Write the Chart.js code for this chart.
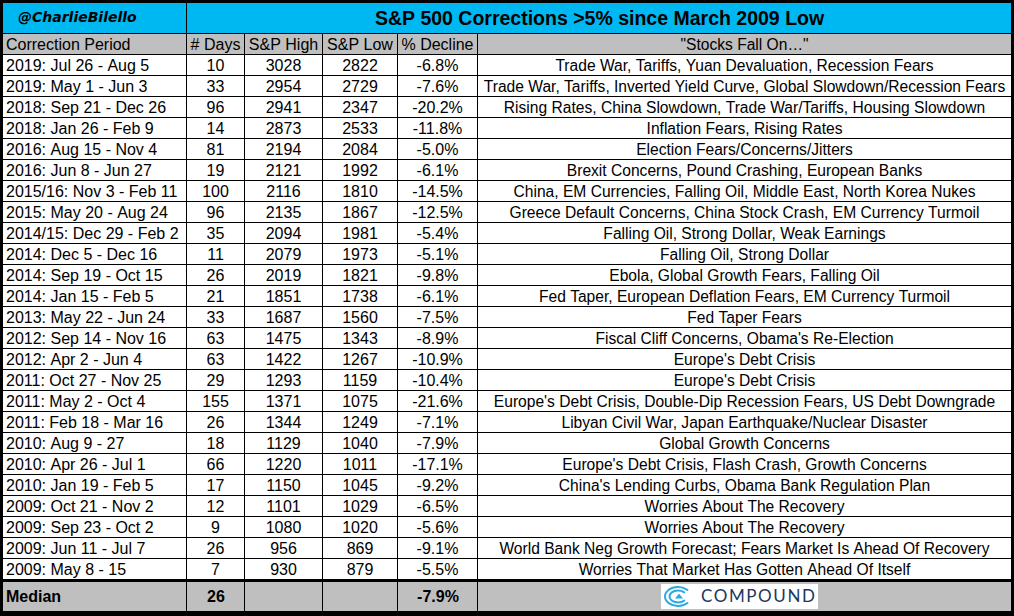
<!DOCTYPE html>
<html>
<head>
<meta charset="utf-8">
<style>
    html, body { margin: 0; padding: 0; background: #ffffff; }
    canvas { display: block; }
</style>
<script src="https://cdn.jsdelivr.net/npm/chart.js@4"></script>
</head>
<body>
<canvas id="correctionsChart" width="1014" height="616"></canvas>
<script>
const headers = ['Correction Period', '# Days', 'S&P High', 'S&P Low', '% Decline', '"Stocks Fall On\u2026"'];

const periods = [
    '2019: Jul 26 - Aug 5', '2019: May 1 - Jun 3', '2018: Sep 21 - Dec 26', '2018: Jan 26 - Feb 9',
    '2016: Aug 15 - Nov 4', '2016: Jun 8 - Jun 27', '2015/16: Nov 3 - Feb 11', '2015: May 20 - Aug 24',
    '2014/15: Dec 29 - Feb 2', '2014: Dec 5 - Dec 16', '2014: Sep 19 - Oct 15', '2014: Jan 15 - Feb 5',
    '2013: May 22 - Jun 24', '2012: Sep 14 - Nov 16', '2012: Apr 2 - Jun 4', '2011: Oct 27 - Nov 25',
    '2011: May 2 - Oct 4', '2011: Feb 18 - Mar 16', '2010: Aug 9 - 27', '2010: Apr 26 - Jul 1',
    '2010: Jan 19 - Feb 5', '2009: Oct 21 - Nov 2', '2009: Sep 23 - Oct 2', '2009: Jun 11 - Jul 7',
    '2009: May 8 - 15'
];
const days = [10, 33, 96, 14, 81, 19, 100, 96, 35, 11, 26, 21, 33, 63, 63, 29, 155, 26, 18, 66, 17, 12, 9, 26, 7];
const highs = [3028, 2954, 2941, 2873, 2194, 2121, 2116, 2135, 2094, 2079, 2019, 1851, 1687, 1475, 1422, 1293, 1371, 1344, 1129, 1220, 1150, 1101, 1080, 956, 930];
const lows = [2822, 2729, 2347, 2533, 2084, 1992, 1810, 1867, 1981, 1973, 1821, 1738, 1560, 1343, 1267, 1159, 1075, 1249, 1040, 1011, 1045, 1029, 1020, 869, 879];
const declines = [-6.8, -7.6, -20.2, -11.8, -5.0, -6.1, -14.5, -12.5, -5.4, -5.1, -9.8, -6.1, -7.5, -8.9, -10.9, -10.4, -21.6, -7.1, -7.9, -17.1, -9.2, -6.5, -5.6, -9.1, -5.5];
const reasons = [
    'Trade War, Tariffs, Yuan Devaluation, Recession Fears',
    'Trade War, Tariffs, Inverted Yield Curve, Global Slowdown/Recession Fears',
    'Rising Rates, China Slowdown, Trade War/Tariffs, Housing Slowdown',
    'Inflation Fears, Rising Rates',
    'Election Fears/Concerns/Jitters',
    'Brexit Concerns, Pound Crashing, European Banks',
    'China, EM Currencies, Falling Oil, Middle East, North Korea Nukes',
    'Greece Default Concerns, China Stock Crash, EM Currency Turmoil',
    'Falling Oil, Strong Dollar, Weak Earnings',
    'Falling Oil, Strong Dollar',
    'Ebola, Global Growth Fears, Falling Oil',
    'Fed Taper, European Deflation Fears, EM Currency Turmoil',
    'Fed Taper Fears',
    "Fiscal Cliff Concerns, Obama's Re-Election",
    "Europe's Debt Crisis",
    "Europe's Debt Crisis",
    "Europe's Debt Crisis, Double-Dip Recession Fears, US Debt Downgrade",
    'Libyan Civil War, Japan Earthquake/Nuclear Disaster',
    'Global Growth Concerns',
    "Europe's Debt Crisis, Flash Crash, Growth Concerns",
    "China's Lending Curbs, Obama Bank Regulation Plan",
    'Worries About The Recovery',
    'Worries About The Recovery',
    'World Bank Neg Growth Forecast; Fears Market Is Ahead Of Recovery',
    'Worries That Market Has Gotten Ahead Of Itself'
];
const medianLabel = 'Median';
const medianDays = 26;
const medianDecline = -7.9;
const titleText = 'S&P 500 Corrections >5% since March 2009 Low';
const handleText = '@CharlieBilello';
const logoText = 'COMPOUND';

const columnWidths = [184, 58, 78, 75, 80, 534];
const BLUE = '#00b8f1';
const GREY = '#bfbfbf';
const FONT = '"Liberation Sans", Arial, sans-serif';

function pct(v) {
    return v.toFixed(1) + '%';
}

// Text for a given column, row 0 is the grey header
function cellText(col, row) {
    if (row === 0) {
        return headers[col];
    }
    const i = row - 1;
    return [periods[i], days[i], highs[i], lows[i], pct(declines[i]), reasons[i]][col];
}

function columnEdge(scale, col) {
    let sum = 0;
    for (let i = 0; i < col; i++) {
        sum += columnWidths[i];
    }
    return scale.getPixelForValue(sum);
}

function drawLogo(ctx, x, y) {
    ctx.fillStyle = '#ffffff';
    ctx.fillRect(x, y, 157, 25);

    // Swirl
    const cx = x + 17, cy = y + 12.5;
    ctx.strokeStyle = '#29abe2';
    ctx.lineCap = 'round';
    ctx.lineWidth = 2;
    [[13, 9.5], [8.5, 6]].forEach(function (r) {
        ctx.beginPath();
        ctx.ellipse(cx, cy, r[0], r[1], 0, 0.24 * Math.PI, 1.76 * Math.PI);
        ctx.stroke();
    });
    ctx.fillStyle = '#29abe2';
    ctx.beginPath();
    ctx.moveTo(cx + 1, cy - 3);
    ctx.lineTo(cx + 5, cy + 2);
    ctx.lineTo(cx - 3, cy + 2);
    ctx.closePath();
    ctx.fill();

    ctx.fillStyle = '#22375e';
    ctx.font = '17px Lato, sans-serif';
    ctx.letterSpacing = '1.6px';
    ctx.textAlign = 'left';
    ctx.textBaseline = 'middle';
    ctx.fillText(logoText, x + 40, y + 13);
    ctx.letterSpacing = '0px';
}

// Title band, median band and the outer frame sit around the category rows
const frameBands = {
    id: 'frameBands',
    beforeDatasetsDraw(chart) {
        const ctx = chart.ctx;
        const xs = chart.scales.x;
        const area = chart.chartArea;
        const left = area.left - 1;
        const right = area.right;

        ctx.save();
        ctx.fillStyle = BLUE;
        ctx.fillRect(left, area.top - 32, right - left, 32);
        ctx.fillStyle = GREY;
        ctx.fillRect(left, area.bottom + 1, right - left, 31);

        ctx.fillStyle = '#000000';
        // top, title bottom, double rule over the median row, bottom
        ctx.fillRect(left, area.top - 32, right - left, 1);
        ctx.fillRect(left, area.top - 1, right - left, 1);
        ctx.fillRect(left, area.bottom + 1, right - left, 1);
        ctx.fillRect(left, area.bottom + 31, right - left, 1);
        // left and right edges
        ctx.fillRect(left, area.top - 32, 1, area.bottom + 32 - area.top + 32);
        ctx.fillRect(right - 1, area.top - 32, 1, area.bottom + 32 - area.top + 32);
        // title divider
        ctx.fillRect(columnEdge(xs, 1) - 1, area.top - 32, 1, 32);
        // median dividers
        for (let c = 1; c < columnWidths.length; c++) {
            ctx.fillRect(columnEdge(xs, c) - 1, area.bottom + 1, 1, 31);
        }
        ctx.restore();
    },
    afterDatasetsDraw(chart) {
        const ctx = chart.ctx;
        const xs = chart.scales.x;
        const area = chart.chartArea;
        const titleMid = area.top - 16;
        const medianMid = area.bottom + 18;

        ctx.save();
        ctx.fillStyle = '#000000';
        ctx.textBaseline = 'middle';

        ctx.textAlign = 'left';
        ctx.font = 'italic bold 14px "DejaVu Sans", sans-serif';
        ctx.fillText(handleText, 18, titleMid);

        ctx.textAlign = 'center';
        ctx.font = 'bold 19.5px ' + FONT;
        ctx.fillText(titleText, (columnEdge(xs, 1) + area.right) / 2, titleMid + 2);

        ctx.font = 'bold 16px ' + FONT;
        ctx.textAlign = 'left';
        ctx.fillText(medianLabel, 6, medianMid);
        ctx.textAlign = 'center';
        ctx.fillText(String(medianDays), (columnEdge(xs, 1) + columnEdge(xs, 2)) / 2, medianMid);
        ctx.fillText(pct(medianDecline), (columnEdge(xs, 4) + columnEdge(xs, 5)) / 2, medianMid);

        drawLogo(ctx, 661, 584);
        ctx.restore();
    }
};

// Writes the cell text on top of each bar
const cellLabels = {
    id: 'cellLabels',
    afterDatasetsDraw(chart) {
        const ctx = chart.ctx;
        const lastCol = columnWidths.length - 1;
        ctx.save();
        ctx.fillStyle = '#000000';
        ctx.textBaseline = 'middle';

        chart.data.datasets.forEach(function (dataset, col) {
            // The reasons column runs a little tighter than the numbers
            ctx.font = (col === lastCol ? '15.6px ' : '16px ') + FONT;
            chart.getDatasetMeta(col).data.forEach(function (bar, row) {
                const props = bar.getProps(['x', 'y', 'base'], true);
                const text = cellText(col, row);
                if (col === 0) {
                    ctx.textAlign = 'left';
                    ctx.fillText(text, props.base + 3, props.y + 1);
                } else {
                    ctx.textAlign = 'center';
                    ctx.fillText(text, (props.base + props.x - 1) / 2, props.y + 1);
                }
            });
        });
        ctx.restore();
    }
};

function initChart() {
    const control = document.getElementById('correctionsChart');
    control.getContext('2d', { alpha: false });

    const rowLabels = [headers[0]].concat(periods);
    const dataSets = [];

    for (let c = 0; c < columnWidths.length; c++) {
        dataSets.push({
            label: headers[c],
            data: rowLabels.map(function () { return columnWidths[c]; }),
            backgroundColor: function (context) {
                return context.dataIndex === 0 ? GREY : '#ffffff';
            },
            borderColor: '#000000',
            borderWidth: { top: 0, left: 0, right: 1, bottom: 1 },
            borderSkipped: false,
            inflateAmount: 0,
            categoryPercentage: 1,
            barPercentage: 1,
            stack: 'cells'
        });
    }

    new Chart(control, {
        type: 'bar',
        data: {
            labels: rowLabels,
            datasets: dataSets
        },
        options: {
            indexAxis: 'y',
            responsive: false,
            animation: false,
            devicePixelRatio: 1,
            layout: {
                padding: { top: 34, left: 3, right: 2, bottom: 36 }
            },
            scales: {
                x: {
                    display: false,
                    stacked: true,
                    min: 0,
                    max: columnWidths.reduce(function (a, b) { return a + b; }, 0)
                },
                y: {
                    display: false,
                    stacked: true
                }
            },
            plugins: {
                legend: { display: false },
                tooltip: { enabled: false }
            }
        },
        plugins: [frameBands, cellLabels]
    });
}

initChart();
</script>
</body>
</html>
